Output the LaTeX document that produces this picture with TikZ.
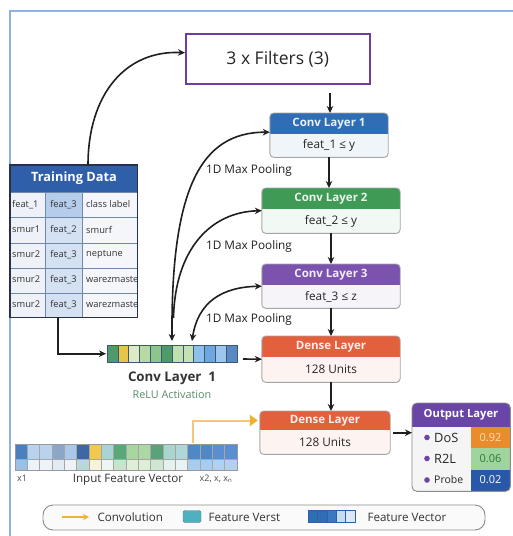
\documentclass[tikz,border=0pt]{standalone}
\usepackage{fontspec}
\setmainfont{Open Sans}
\usetikzlibrary{arrows.meta,calc}
\definecolor{frameblue}{HTML}{8FB2E3}
\definecolor{filtpurple}{HTML}{6B3FA0}
\definecolor{cblue}{HTML}{2F6DB5}
\definecolor{cgreen}{HTML}{3F9A55}
\definecolor{cpurple}{HTML}{7B52AE}
\definecolor{corange}{HTML}{E2603C}
\definecolor{opurple}{HTML}{6A45A8}
\definecolor{tdhead}{HTML}{2F5FA8}
\definecolor{tdc1}{HTML}{EEF2F8}
\definecolor{tdc2}{HTML}{D3E1F2}
\definecolor{tdc2h}{HTML}{B5CDEA}
\definecolor{tdc3}{HTML}{F4F6FA}
\definecolor{tdgrid}{HTML}{7088AA}
\definecolor{tdborder}{HTML}{263248}
\definecolor{convline}{HTML}{F5C57A}
\definecolor{convhead}{HTML}{F0B030}
\definecolor{reluc}{HTML}{5A8A6A}
\definecolor{vorange}{HTML}{EA8C2C}
\definecolor{vgreen}{HTML}{9FD59C}
\definecolor{vblue}{HTML}{2A58A8}
\definecolor{legteal}{HTML}{4FB0C0}
\definecolor{celline}{HTML}{3A5A70}

\newcommand{\LayerBox}[9]{%
  \node[minimum width=#4, minimum height=#5, inner sep=0, anchor=north, rounded corners=4pt, fill=#7!7] (#1) at (#2,#3) {};
  \begin{scope}
    \clip[rounded corners=4pt] (#1.north west) rectangle (#1.south east);
    \fill[#7] (#1.north west) rectangle ([yshift=-#6]#1.north east);
  \end{scope}
  \draw[rounded corners=4pt, draw=black!35, line width=0.9pt] (#1.north west) rectangle (#1.south east);
  \node[font=\bfseries\fontsize{11.5}{13}\selectfont, text=white!90!#7] (#1-t) at ([yshift=-#6/2]#1.north) {#8};
  \node[font=\fontsize{11.8}{14}\selectfont, text=black!85] (#1-b) at ($([yshift=-#6]#1.north)!0.5!(#1.south)$) {#9};
}

\begin{document}
\begin{tikzpicture}[x=1pt,y=-1pt,
  arr/.style={-{Stealth[length=7pt,width=6.5pt]}, line width=1.6pt, black!88},
  dbl/.style={{Stealth[length=7pt,width=6.5pt]}-{Stealth[length=7pt,width=6.5pt]}, line width=1.6pt, black!88},
  cell/.style={font=\fontsize{9.3}{10}\selectfont, text=black!80, inner sep=0},
  pool/.style={font=\fontsize{11.8}{13}\selectfont, text=black!88},
  legtxt/.style={font=\fontsize{11.6}{13}\selectfont, text=black!80, anchor=west}]
\useasboundingbox (0,0) rectangle (513,536);
\fill[white] (0,0) rectangle (513,536);
\draw[frameblue, line width=1.4pt] (10,536) -- (10,11) -- (513,11);

% Filters
\node[draw=filtpurple, line width=1.5pt, minimum width=184pt, minimum height=50pt, anchor=north west, inner sep=0, fill=white,
  font=\fontsize{17.5}{20}\selectfont, text=black!85] (filt) at (185,33) {3 x Filters (3)};

% Layers
\LayerBox{c1}{329}{113}{118pt}{44pt}{21pt}{cblue}{Conv Layer 1}{feat\_1 ≤ y}
\LayerBox{c2}{331}{188}{138pt}{45pt}{21pt}{cgreen}{Conv Layer 2}{feat\_2 ≤ y}
\LayerBox{c3}{331}{264}{138pt}{44pt}{21pt}{cpurple}{Conv Layer 3}{feat\_3 ≤ z}
\LayerBox{d1}{331}{336}{138pt}{46pt}{21pt}{corange}{Dense Layer}{128 Units}
\LayerBox{d2}{325}{411}{130pt}{43pt}{19pt}{corange}{Dense Layer}{128 Units}

% vertical arrows
\coordinate (a0) at (330,93);
\draw[arr] (a0) -- (a0 |- c1.north);
\draw[arr] (c1.south) -- (c1.south |- c2.north);
\draw[arr] (c2.south) -- (c2.south |- c3.north);
\draw[arr] (c3.south) -- (c3.south |- d1.north);
\draw[arr] (d1.south) -- (d1.south |- d2.north);

% Training data table
\node[minimum width=127pt, minimum height=152pt, anchor=north west, inner sep=0] (td) at (10,165) {};
\fill[tdhead] (10,165) rectangle (137,192);
\fill[tdc1] (10,192) rectangle (45,317);
\fill[tdc2] (45,192) rectangle (82,317);
\fill[tdc2h] (45,192) rectangle (82,217);
\fill[tdc3] (82,192) rectangle (137,317);
\begin{scope}
\clip (10,192) rectangle (137,317);
\foreach \a/\b/\c [count=\i] in {feat\_1/feat\_3/class label, smur1/feat\_2/smurf, smur2/feat\_3/neptune, smur2/feat\_3/warezmaster, smur2/feat\_3/warezmaster} {
  \node[cell, anchor=west] (td-\i-1) at (12,{192+25*(\i-1)+12.5}) {\a};
  \node[cell] (td-\i-2) at (63.5,{192+25*(\i-1)+12.5}) {\b};
  \node[cell, anchor=west] (td-\i-3) at (86,{192+25*(\i-1)+12.5}) {\c};
}
\end{scope}
\foreach \yy in {217,243,268,293} { \draw[tdgrid, line width=0.8pt] (10,\yy) -- (137,\yy); }
\draw[tdgrid, line width=0.8pt] (10,192) -- (137,192);
\draw[tdgrid, line width=0.8pt] (45,192) -- (45,317);
\draw[tdgrid, line width=0.8pt] (82,192) -- (82,317);
\draw[tdborder, line width=1.3pt] (td.north west) rectangle (td.south east);
\node[font=\bfseries\fontsize{12.8}{14}\selectfont, text=white] (tdt) at (74,178.5) {Training Data};

% training data -> filters
\coordinate (tdtop) at (88,165);
\draw[arr] (tdtop) .. controls (88,95) and (125,50) .. ([yshift=6pt]filt.west);

% Conv strip
\node[minimum width=130pt, minimum height=17pt, anchor=north west, inner sep=0] (strip) at (107,345) {};
\foreach \c [count=\i] in {4E9A6E,E6C54A,DDEBC5,B7D9A2,8CC68A,4F9A68,C2E0AC,C7E2B2,8EC0EC,6EA7E0,9CC6F0,5A88C2} {
  \definecolor{tmpc}{HTML}{\c}
  \fill[tmpc] ({107+(\i-1)*10.8333},345) rectangle ++(10.8333,17);
  \draw[celline, line width=0.6pt] ({107+(\i-1)*10.8333},345) rectangle ++(10.8333,17);
}
\draw[celline, line width=0.8pt] (strip.north west) rectangle (strip.south east);
\node[font=\bfseries\fontsize{13.3}{15}\selectfont, text=black!80] (cl1) at (172,378) {Conv Layer\ \ 1};
\node[font=\fontsize{10.8}{12}\selectfont, text=reluc] (relu) at (172,395) {ReLU Activation};

% pooling curves
\coordinate (p1) at (172,341);
\coordinate (p2) at (173.5,318);
\coordinate (p3) at (192,341);
\draw[dbl] (p1) .. controls (171,190) and (200,132) .. ([yshift=3pt]c1.west);
\draw[arr] (p2) .. controls (175,250) and (210,212) .. (c2.west);
\draw[dbl] (p3) .. controls (198,302) and (222,287) .. (c3.west);
\node[pool] (mp1) at (249,170) {1D Max Pooling};
\node[pool] (mp2) at (249,246) {1D Max Pooling};
\node[pool] (mp3) at (249,319) {1D Max Pooling};

% training data -> strip, strip -> dense
\draw[arr, shorten >=1pt] ([xshift=-15.5pt]td.south) |- (strip.west);
\coordinate (s1) at (243,359);
\draw[arr] (s1) -- (d1.west);

% input feature vector
\node[minimum width=222pt, minimum height=26pt, anchor=north west, inner sep=0] (invec) at (15,444) {};
\foreach \c/\d [count=\i] in {4A7FC0/9DBFE6,B9D3EE/EEF3FA,B9D3EE/EEF3FA,8DA5C8/E2EAF4,A9C8EA/EEF3FA,3E68A3/B9D8D8,F0C94E/F6F2DC,A7D5D5/EEF6F4,5AA878/C8E4CC,A9D6A0/DDEFD6,ADD8A6/DDEFD6,5AA37A/CFE6D2,A8D6CF/E4F2EE,B0D7D8/E8F3F4,4F87C7/A9CBEE,4F87C7/A9CBEE,5A8ED0/B3D0F0,5A8ED0/B3D0F0} {
  \definecolor{tmpc}{HTML}{\c}
  \definecolor{tmpd}{HTML}{\d}
  \fill[tmpc] ({15+(\i-1)*12.3333},444) rectangle ++(12.3333,15);
  \fill[tmpd] ({15+(\i-1)*12.3333},459) rectangle ++(12.3333,11);
  \draw[black!35, line width=0.5pt] ({15+(\i-1)*12.3333},444) -- ++(0,26);
}
\draw[black!35, line width=0.5pt] (15,459) -- (237,459);
\draw[black!40, line width=0.7pt] (invec.north west) rectangle (invec.south east);
\node[font=\fontsize{9}{10}\selectfont, text=black!70] (x1) at (22,478) {x1};
\node[font=\fontsize{11.6}{13}\selectfont, text=black!80] (ifv) at (128,480) {Input Feature Vector};
\node[font=\fontsize{9}{10}\selectfont, text=black!70] (xn) at (216,479) {x2, x, x\textsubscript{n}};

% convolution arrow
\coordinate (cv) at (193,443);
\draw[convline, line width=2pt, -{Triangle[length=8pt,width=11pt,color=convhead]}] (cv) |- ([xshift=-2pt]d2.west |- d2-t);

% Output layer
\node[minimum width=98pt, minimum height=88pt, inner sep=0, anchor=north west, rounded corners=5pt, fill=black!4] (out) at (412,403) {};
\begin{scope}
  \clip[rounded corners=5pt] (out.north west) rectangle (out.south east);
  \fill[opurple] (412,403) rectangle (510,427);
  \fill[vorange] (471,427) rectangle (510,448);
  \fill[vgreen] (471,448) rectangle (510,469.5);
  \fill[vblue] (471,469.5) rectangle (510,491);
\end{scope}
\draw[rounded corners=5pt, draw=black!45, line width=0.9pt] (out.north west) rectangle (out.south east);
\node[font=\bfseries\fontsize{11.2}{13}\selectfont, text=white] (outt) at (461,415) {Output Layer};
\foreach \lab/\val/\vc/\yy [count=\i] in {DoS/0.92/FDE2B0/437.5, R2L/0.06/2D7A3D/458.5, Probe/0.02/FFFFFF/480} {
  \definecolor{tmpv}{HTML}{\vc}
  \fill[opurple] (427,\yy) circle (2.8pt);
  \node[font=\fontsize{\ifnum\i=3 10.5\else 12.8\fi}{14}\selectfont, text=black!85, anchor=west, inner sep=0] (o-\i) at (434,\yy) {\lab};
  \node[font=\fontsize{11}{12}\selectfont, text=tmpv] (v-\i) at (490.5,\yy) {\val};
}
\draw[arr] ([xshift=3pt]d2.east) -- (d2.east -| out.west);

% Legend
\node[draw=black!45, line width=0.9pt, rounded corners=10pt, fill=black!2, minimum width=442pt, minimum height=25pt, inner sep=0] (leg) at (264,517.5) {};
\coordinate (lg1) at (62,517);
\coordinate (lg2) at (89,517);
\draw[convhead, line width=1.6pt, -{Stealth[length=6pt,width=6pt]}] (lg1) -- (lg2);
\node[legtxt] (lt1) at (94,517) {Convolution};
\node[draw=celline!80, fill=legteal, rounded corners=1.5pt, minimum width=18pt, minimum height=12pt, inner sep=0] (lsq) at (192,516.5) {};
\node[legtxt] (lt2) at (205,517) {Feature Verst};
\node[minimum width=47pt, minimum height=12pt, inner sep=0] (lstrip) at (331.5,516.5) {};
\foreach \c [count=\i] in {2F6DB5,2F6DB5,3A78C0,C8DCF0,DCE8F6} {
  \definecolor{tmpc}{HTML}{\c}
  \fill[tmpc] ({308+(\i-1)*9.4},510.5) rectangle ++(9.4,12);
  \draw[tdhead, line width=0.6pt] ({308+(\i-1)*9.4},510.5) rectangle ++(9.4,12);
}
\node[legtxt] (lt3) at (364,517) {Feature Vector};
\end{tikzpicture}
\end{document}
